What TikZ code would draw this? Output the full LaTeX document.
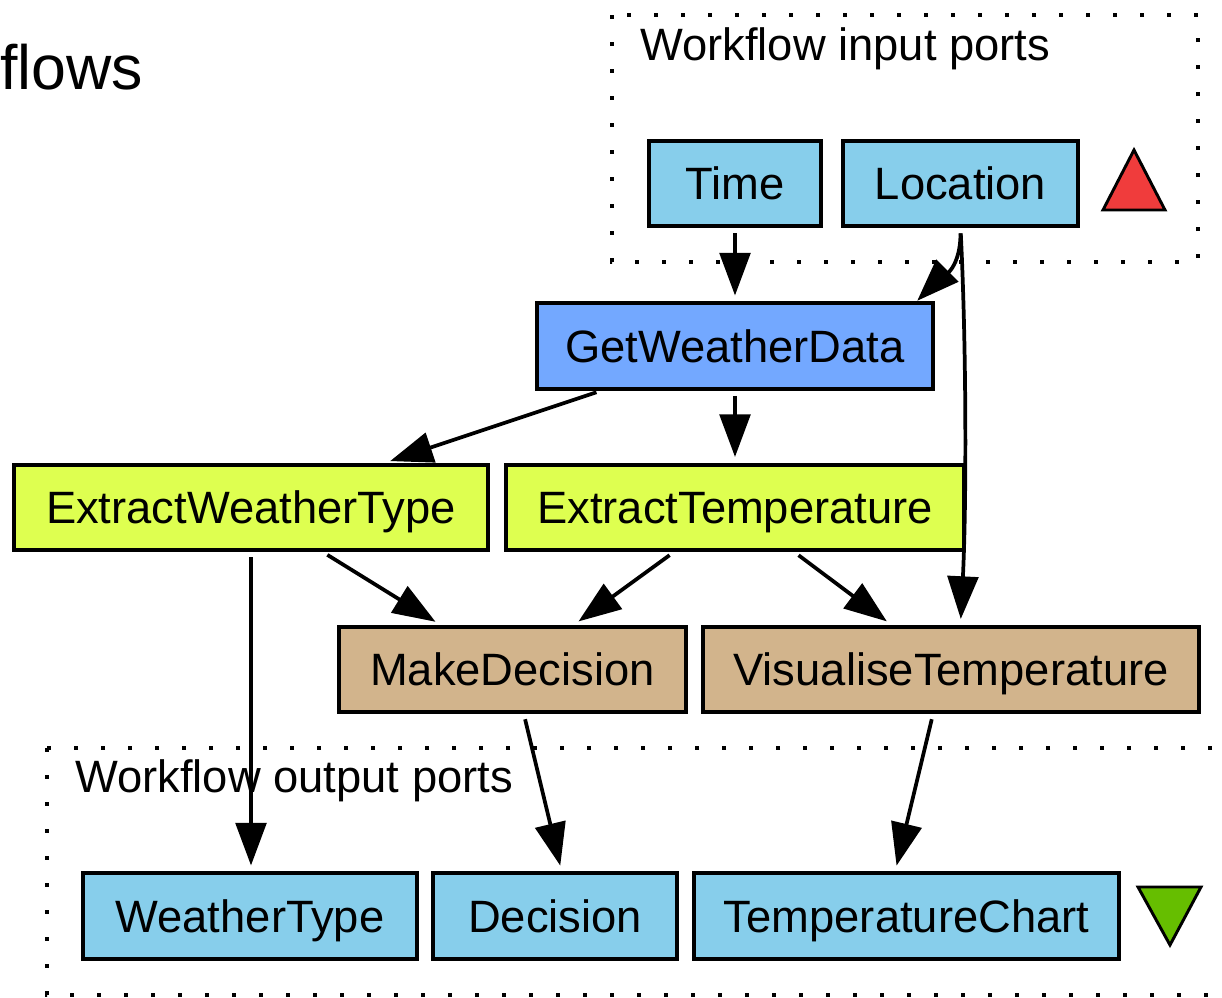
\documentclass[tikz,border=0pt]{standalone}
\usepackage{fontspec}
\setmainfont{Liberation Sans}
\usepackage{xcolor}
\usetikzlibrary{arrows.meta}

\definecolor{portblue}{RGB}{135,206,235}
\definecolor{getblue}{RGB}{115,168,255}
\definecolor{extractgreen}{RGB}{222,255,80}
\definecolor{decidetan}{RGB}{210,180,140}
\definecolor{inred}{RGB}{240,60,60}
\definecolor{outgreen}{RGB}{102,190,0}

\begin{document}
\begin{tikzpicture}[x=0.75pt,y=0.75pt,yscale=-1,xscale=1,
  box/.style={draw,line width=2.8pt,inner sep=0pt,minimum height=64pt,text height=24.3pt,text depth=0pt,font=\fontsize{34pt}{39pt}\selectfont},
  port/.style={box,fill=portblue},
  fetch/.style={box,fill=getblue},
  extract/.style={box,fill=extractgreen},
  decide/.style={box,fill=decidetan},
  flow/.style={line width=2.8pt,-{Triangle[length=32pt,width=23pt]},shorten >=4.5pt,shorten <=4pt},
  portarea/.style={line width=3pt,dash pattern=on 3pt off 17.25pt},
  caption/.style={anchor=base west,inner sep=0pt,font=\fontsize{34pt}{39pt}\selectfont}
]

\clip (0,0) rectangle (1222,997);

% title
\node (title) [anchor=base west,inner sep=0pt,font=\fontsize{47pt}{52pt}\selectfont] at (0,89) {flows};

% input ports
\draw [portarea] (612,15) rectangle (1198,262);
\node (inlabel) [caption] at (640,60) {Workflow input ports};
\node (time) [port,minimum width=129pt] at (735,183.5) {Time};
\node (loc) [port,minimum width=176pt] at (960.5,183.5) {Location};
\draw [fill=inred,line width=2.2pt] (1103,210) -- (1165,210) -- (1134,150) -- cycle;

% processors
\node (gwd) [fetch,minimum width=297pt] at (735,346) {GetWeatherData};
\node (ewt) [extract,minimum width=355pt] at (251,507.5) {ExtractWeatherType};
\node (etemp) [extract,minimum width=343.5pt] at (735,507.5) {ExtractTemperature};
\node (md) [decide,minimum width=260pt] at (512.5,669.5) {MakeDecision};
\node (vt) [decide,minimum width=372pt] at (951,669.5) {VisualiseTemperature};

% output ports
\draw [portarea] (47,748) rectangle (1260,995);
\node (outlabel) [caption] at (75,792) {Workflow output ports};
\node (wt) [port,minimum width=250.5pt] at (250,916) {WeatherType};
\node (dec) [port,minimum width=183pt] at (555,916) {Decision};
\node (tc) [port,minimum width=319pt] at (906.5,916) {TemperatureChart};
\draw [fill=outgreen,line width=2.2pt] (1138,887) -- (1201,887) -- (1170,945) -- cycle;

% links
\coordinate (gwdin) at (913,305);
\draw [flow] (time) -- (gwd);
\draw [flow] (loc.south) .. controls +(0,45) and +(25,-25) .. (gwdin);
\draw [flow] (loc.south) .. controls +(6,120) and +(6,-120) .. (loc.south |- vt.north);
\draw [flow] (gwd) -- (ewt);
\draw [flow] (gwd) -- (etemp);
\draw [flow] (ewt) -- (md);
\draw [flow] (etemp) -- (md);
\draw [flow] (etemp) -- (vt);
\draw [flow] (ewt.south) -- (ewt.south |- wt.north);
\draw [flow] ([xshift=8.5pt]md.south) -- ([xshift=5pt]dec.north);
\draw [flow] ([xshift=-13.5pt]vt.south) -- ([xshift=-8.5pt]tc.north);

\end{tikzpicture}
\end{document}
